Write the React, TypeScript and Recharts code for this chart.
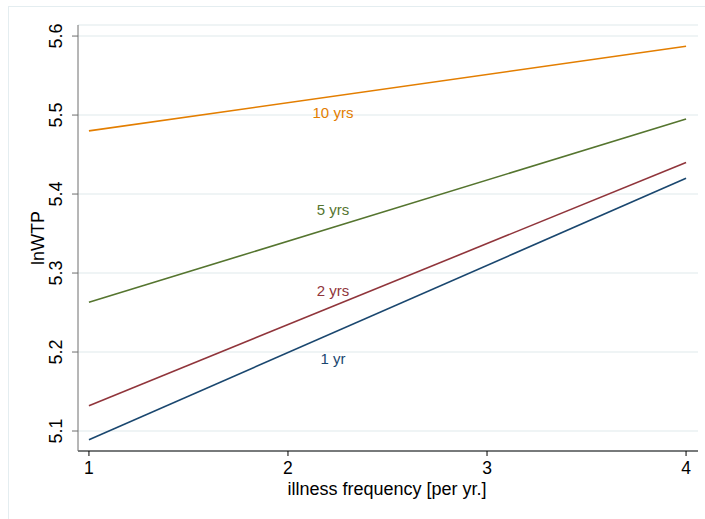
import React from "react";
import { LineChart, Line, XAxis, YAxis, CartesianGrid, ReferenceDot, Label } from "recharts";

const freq = [1, 4];
const oneYr = [5.089, 5.42];
const twoYrs = [5.132, 5.44];
const fiveYrs = [5.263, 5.495];
const tenYrs = [5.48, 5.587];
const yTicks = [5.1, 5.2, 5.3, 5.4, 5.5, 5.6];
const xTicks = [1, 2, 3, 4];
const seriesNames = ["1 yr", "2 yrs", "5 yrs", "10 yrs"];
const labelX = [2.226, 2.226, 2.226, 2.226];
const labelY = [5.192, 5.278, 5.38, 5.5025];
const colors = ["#1a476f", "#90353b", "#55752f", "#e37e00"];

const data = freq.map((f, i) => ({ f, a: oneYr[i], b: twoYrs[i], c: fiveYrs[i], d: tenYrs[i] }));
const keys = ["a", "b", "c", "d"];
const FONT = "'Liberation Sans', Arial, Helvetica, sans-serif";

const YTick = (props: any) => {
  const { y, payload } = props;
  const bx = 62;
  return (
    <text x={bx} y={y} transform={`rotate(-90, ${bx}, ${y})`} textAnchor="middle" fontSize={18} fill="#000" fontFamily={FONT}>
      {payload.value.toFixed(1)}
    </text>
  );
};

const XTick = (props: any) => {
  const { x, payload } = props;
  return (
    <text x={x} y={474} textAnchor="middle" fontSize={17.5} fill="#000" fontFamily={FONT}>
      {payload.value}
    </text>
  );
};

export default function App() {
  return (
    <div style={{ position: "fixed", left: 0, top: 0, width: 705, height: 519, overflow: "hidden", background: "#fff" }}>
      <div style={{ position: "absolute", left: 8, top: 6, width: 760, height: 600, border: "1px solid #e4edf0", boxSizing: "border-box" }} />
      <div style={{ position: "absolute", left: 0, top: 0 }}>
        <LineChart width={705} height={519} data={data} margin={{ top: 25, right: 7, bottom: 0, left: 0 }}>
          <CartesianGrid horizontal={true} vertical={false} stroke="#eaf0f2" strokeWidth={1.5} />
          <XAxis
            dataKey="f"
            type="number"
            domain={[0.945, 4.06]}
            ticks={xTicks}
            allowDataOverflow
            height={68}
            stroke="#000"
            tickSize={5}
            tickLine={{ stroke: "#000" }}
            tick={<XTick />}
          >
            <Label
              content={() => (
                <text x={387} y={495} textAnchor="middle" fontSize={18} fill="#000" fontFamily={FONT}>
                  illness frequency [per yr.]
                </text>
              )}
            />
          </XAxis>
          <YAxis
            type="number"
            domain={[5.0747, 5.614]}
            ticks={yTicks}
            allowDataOverflow
            width={78}
            stroke="#6e6e6e"
            tickSize={6}
            tickLine={{ stroke: "#6e6e6e" }}
            tick={<YTick />}
          >
            <Label
              content={() => (
                <text x={44} y={238} transform="rotate(-90, 44, 238)" textAnchor="middle" fontSize={18} fill="#000" fontFamily={FONT}>
                  lnWTP
                </text>
              )}
            />
          </YAxis>
          {keys.map((k, i) => (
            <Line key={k} dataKey={k} stroke={colors[i]} strokeWidth={1.6} dot={false} isAnimationActive={false} type="linear" />
          ))}
          {seriesNames.map((n, i) => (
            <ReferenceDot
              key={n}
              x={labelX[i]}
              y={labelY[i]}
              r={0}
              stroke="none"
              fill="none"
              label={{ value: n, position: "center", fill: colors[i], fontSize: 15, fontFamily: FONT }}
            />
          ))}
        </LineChart>
      </div>
    </div>
  );
}
